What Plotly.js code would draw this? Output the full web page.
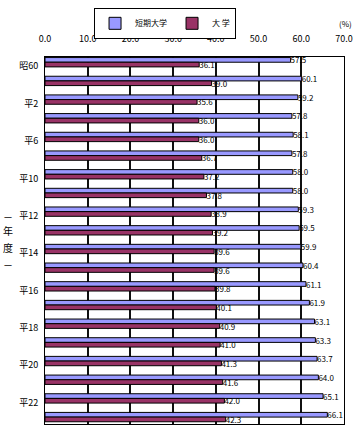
<!DOCTYPE html>
<html>
<head>
<meta charset="utf-8">
<script src="https://cdn.plot.ly/plotly-3.0.1.min.js"></script>
<style>html,body{margin:0;padding:0;background:#fff;}#chart{width:356px;height:426px;}</style>
</head>
<body>
<div id="chart"></div>
<script>
const categories = ['昭60','昭62','平2','平4','平6','平8','平10','平11','平12','平13','平14','平15','平16','平17','平18','平19','平20','平21','平22','平23'];
const tankiValues = [57.5, 60.1, 59.2, 57.8, 58.1, 57.8, 58.0, 58.0, 59.3, 59.5, 59.9, 60.4, 61.1, 61.9, 63.1, 63.3, 63.7, 64.0, 65.1, 66.1];
const daigakuValues = [36.1, 39.0, 35.6, 36.0, 36.0, 36.7, 37.2, 37.8, 38.9, 39.2, 39.6, 39.6, 39.8, 40.1, 40.9, 41.0, 41.3, 41.6, 42.0, 42.3];
const seriesNames = ['短期大学', '大 学'];
const xTickVals = [0, 10, 20, 30, 40, 50, 60, 70];
const yTickLabels = categories.filter((c, i) => i % 2 === 0);
const yTitleChars = ['－', '年', '度', '－'];

const fontFam = '"Noto Sans CJK JP", "Noto Sans", sans-serif';

const traces = [
  {
    type: 'bar', orientation: 'h', name: seriesNames[0],
    y: categories, x: tankiValues,
    offset: -0.47, width: 0.25,
    marker: {color: '#9999FF', line: {color: '#000000', width: 1}},
    text: tankiValues.map(v => v.toFixed(1)), textposition: 'outside',
    constraintext: 'none',
    textfont: {size: 8, color: '#000', family: fontFam},
    cliponaxis: false
  },
  {
    type: 'bar', orientation: 'h', name: seriesNames[1],
    y: categories, x: daigakuValues,
    offset: -0.22, width: 0.25,
    marker: {color: '#993366', line: {color: '#000000', width: 1}},
    text: daigakuValues.map(v => v.toFixed(1)), textposition: 'outside',
    constraintext: 'none',
    textfont: {size: 8, color: '#000', family: fontFam},
    cliponaxis: false
  }
];

const yTitleY = [0.566, 0.526, 0.480, 0.435];
const annotations = [
  {text: '(%)', xref: 'paper', yref: 'paper', x: 1.035, y: 1.092,
   xanchor: 'right', yanchor: 'middle', showarrow: false, font: {size: 8}}
].concat(yTitleChars.map((ch, i) => ({
  text: ch, xref: 'paper', yref: 'paper', x: -0.124, y: yTitleY[i],
  xanchor: 'center', yanchor: 'middle', showarrow: false, font: {size: 10}
})));

const layout = {
  width: 356, height: 426,
  margin: {l: 45, r: 12, t: 57, b: 2},
  paper_bgcolor: '#fff', plot_bgcolor: '#fff',
  barmode: 'overlay',
  font: {family: fontFam, size: 9, color: '#000'},
  showlegend: true,
  legend: {
    orientation: 'h', x: 0.164, xanchor: 'left', y: 1.134, yanchor: 'top',
    bordercolor: '#000', borderwidth: 1, font: {size: 8, family: fontFam},
    bgcolor: '#fff', itemwidth: 30
  },
  xaxis: {
    side: 'top', range: [0, 70], tickvals: xTickVals, tickformat: '.1f',
    showgrid: true, gridcolor: '#111', gridwidth: 2,
    showline: true, linecolor: '#000', linewidth: 1, mirror: true,
    ticks: '', ticklabelstandoff: 10, zeroline: false,
    tickfont: {size: 9, color: '#000'}
  },
  yaxis: {
    type: 'category', categoryorder: 'array', categoryarray: categories,
    range: [19.15, -0.5],
    tickvals: yTickLabels, ticktext: yTickLabels,
    showgrid: false, showline: true, linecolor: '#000', linewidth: 1, mirror: true,
    ticks: '', ticklabelstandoff: 4,
    tickfont: {size: 9, color: '#000'}
  },
  annotations: annotations
};

Plotly.newPlot('chart', traces, layout, {displayModeBar: false, staticPlot: true});
</script>
</body>
</html>
